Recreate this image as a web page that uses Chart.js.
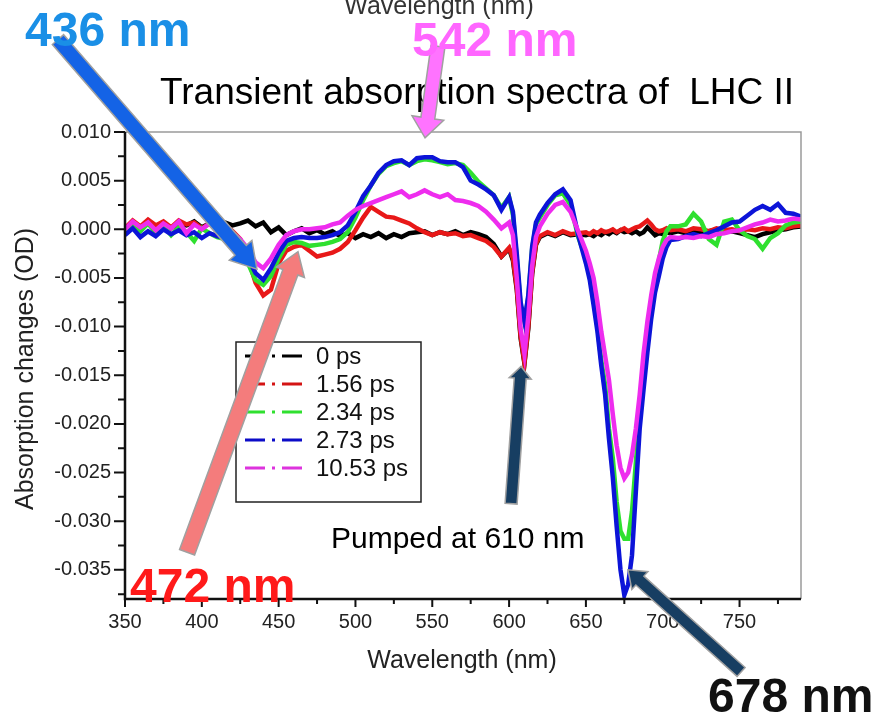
<!DOCTYPE html>
<html>
<head>
<meta charset="utf-8">
<script src="https://cdn.jsdelivr.net/npm/chart.js@4.4.1/dist/chart.umd.min.js"></script>
<style>
  html, body { margin: 0; padding: 0; background: #fff; }
  canvas { display: block; }
</style>
</head>
<body>
<canvas id="myChart" width="872" height="715"></canvas>
<script>
const FONT = '"Liberation Sans", Arial, sans-serif';

// wavelength grid (nm), finer around the two bleach dips
const WAVELENGTH = [
  350,355,360,365,370,375,380,385,390,395,400,405,410,415,420,425,430,435,440,445,
  450,455,460,465,470,475,480,485,490,495,500,505,510,515,520,525,530,535,540,545,
  550,555,560,565,570,575,580,585,590,595,
  600,602.5,605,607.5,610,612.5,615,617.5,620,
  625,630,635,640,645,
  650,652.5,655,657.5,660,662.5,665,667.5,670,672.5,675,677.5,680,682.5,685,687.5,690,692.5,695,697.5,700,702.5,705,
  710,715,720,725,730,735,740,745,750,755,760,765,770,775,780,785,790
];

const SERIES_LABELS = ["0 ps", "1.56 ps", "2.34 ps", "2.73 ps", "10.53 ps"];

const OD_0PS = [
  -0.0002,0.0006,0.0002,0.0008,0.0003,0.0007,0.0001,0.0006,0.0004,0.0008,
  0.0002,0.0006,0.0003,0.0007,0.0004,0.0006,0.0009,0.0003,0.0007,-0.0003,
  0.0002,-0.0006,-0.0002,0.0001,-0.0004,-0.0001,-0.0005,-0.0002,-0.0007,-0.0004,
  -0.0009,-0.0005,-0.0008,-0.0004,-0.0009,-0.0005,-0.0008,-0.0004,-0.0003,-0.0002,
  -0.0006,-0.0003,-0.0005,-0.0002,-0.0006,-0.0003,-0.0005,-0.0008,-0.0015,-0.0028,
  -0.0020,-0.0032,-0.0062,-0.0112,-0.0138,-0.0102,-0.0046,-0.0016,-0.0008,
  -0.0004,-0.0007,-0.0003,-0.0006,-0.0005,
  -0.0006,-0.0005,-0.0007,-0.0004,-0.0006,-0.0003,-0.0005,-0.0002,-0.0004,-0.0001,-0.0003,-0.0002,-0.0004,-0.0002,-0.0005,-0.0003,0.0002,-0.0002,-0.0006,-0.0004,-0.0005,-0.0003,-0.0004,
  -0.0002,-0.0004,-0.0001,-0.0003,-0.0002,0.0000,-0.0003,-0.0002,-0.0004,-0.0006,-0.0008,-0.0005,-0.0003,-0.0001,0.0000,0.0002,0.0003
];

const OD_156PS = [
  0.0001,0.0009,0.0003,0.0010,0.0004,0.0008,0.0002,0.0009,0.0005,0.0007,
  0.0001,0.0006,0.0002,0.0005,-0.0002,-0.0010,-0.0030,-0.0055,-0.0068,-0.0062,
  -0.0035,-0.0022,-0.0018,-0.0016,-0.0022,-0.0028,-0.0026,-0.0024,-0.0020,-0.0013,
  -0.0001,0.0012,0.0023,0.0018,0.0013,0.0012,0.0009,0.0006,0.0001,-0.0003,
  -0.0006,-0.0003,-0.0005,-0.0004,-0.0007,-0.0006,-0.0009,-0.0012,-0.0018,-0.0028,
  -0.0019,-0.0030,-0.0060,-0.0110,-0.0137,-0.0100,-0.0044,-0.0015,-0.0007,
  -0.0003,-0.0006,-0.0002,-0.0005,-0.0004,
  -0.0003,-0.0005,-0.0002,-0.0004,-0.0001,-0.0003,-0.0002,0.0000,-0.0003,-0.0001,0.0001,-0.0002,0.0000,0.0002,0.0003,0.0006,0.0009,0.0005,0.0000,-0.0002,-0.0001,0.0001,-0.0001,
  0.0000,-0.0002,0.0001,0.0000,-0.0002,0.0001,-0.0001,0.0000,-0.0002,0.0000,-0.0001,0.0001,0.0000,0.0002,0.0001,0.0003,0.0004
];

const OD_234PS = [
  -0.0005,0.0004,-0.0002,0.0006,-0.0004,0.0003,-0.0006,0.0002,-0.0003,-0.0012,
  0.0001,-0.0004,-0.0008,-0.0010,-0.0012,-0.0020,-0.0035,-0.0052,-0.0057,-0.0048,
  -0.0030,-0.0016,-0.0013,-0.0014,-0.0017,-0.0016,-0.0015,-0.0013,-0.0010,-0.0003,
  0.0012,0.0030,0.0045,0.0057,0.0065,0.0068,0.0070,0.0066,0.0070,0.0072,
  0.0071,0.0069,0.0067,0.0068,0.0066,0.0058,0.0049,0.0042,0.0035,0.0022,
  0.0033,0.0015,-0.0030,-0.0078,-0.0095,-0.0070,-0.0020,0.0005,0.0012,
  0.0025,0.0035,0.0037,0.0025,-0.0008,
  -0.0030,-0.0048,-0.0072,-0.0100,-0.0135,-0.0160,-0.0205,-0.0235,-0.0280,-0.0310,-0.0318,-0.0318,-0.0290,-0.0240,-0.0190,-0.0150,-0.0110,-0.0078,-0.0052,-0.0032,-0.0012,-0.0002,0.0003,
  0.0003,0.0005,0.0016,0.0008,-0.0010,-0.0016,0.0008,0.0010,-0.0001,-0.0007,-0.0010,-0.0020,-0.0009,-0.0004,0.0004,0.0007,0.0008
];

const OD_273PS = [
  -0.0006,0.0001,-0.0008,-0.0002,-0.0007,0.0000,-0.0005,-0.0001,-0.0006,-0.0003,
  -0.0009,-0.0004,-0.0007,-0.0009,-0.0012,-0.0018,-0.0030,-0.0045,-0.0052,-0.0040,
  -0.0024,-0.0012,-0.0009,-0.0008,-0.0009,-0.0009,-0.0008,-0.0006,-0.0003,0.0004,
  0.0018,0.0034,0.0045,0.0058,0.0066,0.0070,0.0071,0.0066,0.0073,0.0074,
  0.0074,0.0070,0.0069,0.0069,0.0064,0.0050,0.0046,0.0041,0.0035,0.0020,
  0.0033,0.0018,-0.0025,-0.0075,-0.0095,-0.0068,-0.0018,0.0007,0.0015,
  0.0027,0.0036,0.0041,0.0030,-0.0006,
  -0.0035,-0.0052,-0.0078,-0.0105,-0.0140,-0.0170,-0.0215,-0.0255,-0.0305,-0.0350,-0.0376,-0.0365,-0.0335,-0.0270,-0.0205,-0.0165,-0.0127,-0.0092,-0.0065,-0.0048,-0.0030,-0.0018,-0.0011,
  -0.0010,-0.0007,-0.0005,-0.0007,-0.0004,-0.0001,0.0003,0.0007,0.0008,0.0014,0.0020,0.0024,0.0020,0.0026,0.0017,0.0016,0.0013
];

const OD_1053PS = [
  0.0000,0.0008,0.0002,0.0007,-0.0001,0.0006,0.0001,0.0008,-0.0004,0.0005,
  0.0000,0.0006,-0.0002,0.0002,-0.0004,-0.0010,-0.0020,-0.0034,-0.0040,-0.0030,
  -0.0016,-0.0006,-0.0002,0.0000,0.0000,0.0001,0.0002,0.0005,0.0007,0.0014,
  0.0020,0.0024,0.0027,0.0030,0.0033,0.0036,0.0039,0.0033,0.0036,0.0040,
  0.0036,0.0033,0.0036,0.0030,0.0029,0.0027,0.0024,0.0018,0.0010,0.0001,
  0.0007,-0.0006,-0.0050,-0.0102,-0.0128,-0.0090,-0.0038,-0.0008,0.0003,
  0.0016,0.0025,0.0028,0.0018,-0.0002,
  -0.0022,-0.0035,-0.0050,-0.0075,-0.0105,-0.0130,-0.0155,-0.0190,-0.0222,-0.0245,-0.0256,-0.0250,-0.0232,-0.0205,-0.0170,-0.0128,-0.0095,-0.0068,-0.0045,-0.0030,-0.0018,-0.0011,-0.0008,
  -0.0009,-0.0008,-0.0009,-0.0007,-0.0008,-0.0005,-0.0004,-0.0002,-0.0001,0.0002,0.0005,0.0007,0.0010,0.0008,0.0009,0.0011,0.0010
];

const X_TICKS = [350, 400, 450, 500, 550, 600, 650, 700, 750];
const Y_TICKS = [-0.035, -0.030, -0.025, -0.020, -0.015, -0.010, -0.005, 0.000, 0.005, 0.010];

const SERIES_VALUES = [OD_0PS, OD_156PS, OD_234PS, OD_273PS, OD_1053PS];
const COLOURS = ["#000000", "#e81818", "#2fe02f", "#0c14d8", "#ee2cee"];
const LEGEND_COLOURS = ["#000000", "#d41414", "#2fe02f", "#0c0cc8", "#dd33dd"];

// arrows point (in data units) at the features, tails sit out of the plot
const ARROWS = [
  { from: [306.4, 0.0195], to: [435.9, -0.0041], shaft: 15, head: 30, headLen: 25, fill: "#1463e6" },
  { from: [553.7, 0.0188], to: [545.3, 0.0094], shaft: 14, head: 32, headLen: 20, fill: "#ff73ff" },
  { from: [390.4, -0.0332], to: [462.6, -0.0023], shaft: 16, head: 30, headLen: 22, fill: "#f47c7c" },
  { from: [601.3, -0.0282], to: [607.8, -0.0141], shaft: 12, head: 22, headLen: 12, fill: "#173e62" },
  { from: [751.0, -0.0455], to: [677.4, -0.0350], shaft: 12, head: 24, headLen: 16, fill: "#173e62" },
];

const TITLE = { text: "Transient absorption spectra of  LHC II", x: 160, y: 104, size: 37 };

const CALLOUTS = [
  { text: "436 nm", x: 25, y: 46, color: "#1a8fe6" },
  { text: "542 nm", x: 412, y: 56, color: "#ff66ff" },
  { text: "472 nm", x: 130, y: 602, color: "#ff1a1a" },
  { text: "678 nm", x: 708, y: 712, color: "#111111" },
];

function blockArrow(ctx, x1, y1, x2, y2, a) {
    let ang = Math.atan2(y2 - y1, x2 - x1);
    let len = Math.hypot(x2 - x1, y2 - y1);
    ctx.save();
    ctx.translate(x1, y1);
    ctx.rotate(ang);
    ctx.beginPath();
    ctx.moveTo(0, -a.shaft / 2);
    ctx.lineTo(len - a.headLen, -a.shaft / 2);
    ctx.lineTo(len - a.headLen, -a.head / 2);
    ctx.lineTo(len, 0);
    ctx.lineTo(len - a.headLen, a.head / 2);
    ctx.lineTo(len - a.headLen, a.shaft / 2);
    ctx.lineTo(0, a.shaft / 2);
    ctx.closePath();
    ctx.fillStyle = a.fill;
    ctx.fill();
    ctx.strokeStyle = "#a0a0a0";
    ctx.lineWidth = 1.5;
    ctx.stroke();
    ctx.restore();
}

const decorations = {
    id: "decorations",
    afterDraw(chart) {
        const ctx = chart.ctx;
        const area = chart.chartArea;
        const xs = chart.scales.x;
        const ys = chart.scales.y;

        // frame: grey top/right, black left/bottom
        ctx.save();
        ctx.strokeStyle = "#9a9a9a";
        ctx.lineWidth = 1.5;
        ctx.beginPath();
        ctx.moveTo(area.left, area.top);
        ctx.lineTo(area.right, area.top);
        ctx.lineTo(area.right, area.bottom);
        ctx.stroke();

        ctx.strokeStyle = "#111";
        ctx.lineWidth = 2.5;
        ctx.beginPath();
        ctx.moveTo(area.left, area.top);
        ctx.lineTo(area.left, area.bottom);
        ctx.lineTo(area.right, area.bottom);
        ctx.stroke();

        // major + minor tick marks, pointing outwards
        ctx.lineWidth = 2;
        ctx.beginPath();
        for (let i = 0; i < X_TICKS.length; i++) {
            let px = xs.getPixelForValue(X_TICKS[i]);
            ctx.moveTo(px, area.bottom);
            ctx.lineTo(px, area.bottom + 8);
            let mid = X_TICKS[i] + (X_TICKS[1] - X_TICKS[0]) / 2;
            if (mid < xs.max) {
                let pm = xs.getPixelForValue(mid);
                ctx.moveTo(pm, area.bottom);
                ctx.lineTo(pm, area.bottom + 5);
            }
        }
        for (let i = 0; i < Y_TICKS.length; i++) {
            let py = ys.getPixelForValue(Y_TICKS[i]);
            ctx.moveTo(area.left, py);
            ctx.lineTo(area.left - 11, py);
            let mid = Y_TICKS[i] - (Y_TICKS[1] - Y_TICKS[0]) / 2;
            if (mid > ys.min) {
                let pm = ys.getPixelForValue(mid);
                ctx.moveTo(area.left, pm);
                ctx.lineTo(area.left - 7, pm);
            }
        }
        ctx.stroke();

        // axis titles
        ctx.fillStyle = "#222";
        ctx.font = "25px " + FONT;
        ctx.textAlign = "center";
        ctx.textBaseline = "alphabetic";
        ctx.fillText("Wavelength (nm)", 462, 668);
        ctx.fillStyle = "#333";
        ctx.fillText("Wavelength (nm)", 439, 14);
        ctx.save();
        ctx.translate(33, 369);
        ctx.rotate(-Math.PI / 2);
        ctx.fillStyle = "#222";
        ctx.fillText("Absorption changes (OD)", 0, 0);
        ctx.restore();

        // legend box inside the plot
        ctx.fillStyle = "#fff";
        ctx.fillRect(236, 342, 185, 160);
        ctx.strokeStyle = "#222";
        ctx.lineWidth = 1.5;
        ctx.strokeRect(236, 342, 185, 160);
        ctx.font = "24px " + FONT;
        ctx.textAlign = "left";
        ctx.textBaseline = "middle";
        for (let i = 0; i < SERIES_LABELS.length; i++) {
            let y = 356 + i * 28;
            ctx.strokeStyle = LEGEND_COLOURS[i];
            ctx.lineWidth = 3;
            ctx.setLineDash([20, 7, 3, 7]);
            ctx.beginPath();
            ctx.moveTo(245, y);
            ctx.lineTo(303, y);
            ctx.stroke();
            ctx.setLineDash([]);
            ctx.fillStyle = "#111";
            ctx.fillText(SERIES_LABELS[i], 316, y + 1);
        }

        // title, then arrows over it, then the big callouts
        ctx.textBaseline = "alphabetic";
        ctx.fillStyle = "#000";
        ctx.font = TITLE.size + "px " + FONT;
        ctx.fillText(TITLE.text, TITLE.x, TITLE.y);

        for (let a of ARROWS) {
            blockArrow(ctx,
                xs.getPixelForValue(a.from[0]), ys.getPixelForValue(a.from[1]),
                xs.getPixelForValue(a.to[0]), ys.getPixelForValue(a.to[1]), a);
        }

        ctx.font = "30px " + FONT;
        ctx.fillStyle = "#000";
        ctx.fillText("Pumped at 610 nm", 331, 548);

        ctx.font = "bold 48px " + FONT;
        for (let c of CALLOUTS) {
            ctx.fillStyle = c.color;
            ctx.fillText(c.text, c.x, c.y);
        }
        ctx.restore();
    }
};

let datasets = [];
for (let i = 0; i < SERIES_LABELS.length; i++) {
    datasets.push({
        label: SERIES_LABELS[i],
        data: WAVELENGTH.map((x, j) => ({ x: x, y: SERIES_VALUES[i][j] })),
        borderColor: COLOURS[i],
        backgroundColor: COLOURS[i],
        borderWidth: 4.5,
        pointRadius: 0,
        tension: 0,
        fill: false,
        order: SERIES_LABELS.length - i, // later delays drawn on top
    });
}

const tickFont = { family: FONT, size: 20 };

new Chart(document.getElementById("myChart").getContext("2d"), {
    type: "line",
    data: { datasets: datasets },
    options: {
        responsive: false,
        animation: false,
        devicePixelRatio: 1,
        layout: { padding: { top: 132, right: 71, left: 0, bottom: 0 } },
        plugins: { legend: { display: false }, tooltip: { enabled: false } },
        scales: {
            x: {
                type: "linear",
                min: 350,
                max: 790,
                afterBuildTicks: (s) => { s.ticks = X_TICKS.map(v => ({ value: v })); },
                afterFit: (s) => { s.height = 116; },
                grid: { display: false, drawTicks: false },
                border: { display: false },
                ticks: { font: tickFont, color: "#222", padding: 11, maxRotation: 0, autoSkip: false },
            },
            y: {
                min: -0.038,
                max: 0.010,
                afterBuildTicks: (s) => { s.ticks = Y_TICKS.map(v => ({ value: v })); },
                afterFit: (s) => { s.width = 125; },
                grid: { display: false, drawTicks: false },
                border: { display: false },
                ticks: { font: tickFont, color: "#222", padding: 14, autoSkip: false,
                         callback: (v) => v.toFixed(3) },
            },
        },
    },
    plugins: [decorations],
});
</script>
</body>
</html>
